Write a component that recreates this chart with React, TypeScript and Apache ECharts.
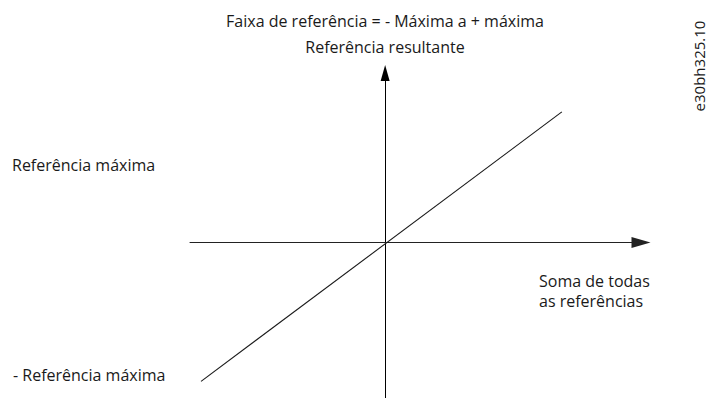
import React, { useEffect, useRef } from "react";
import * as echarts from "echarts";

// Data (units: % of maximum reference)
const lineX: number[] = [-100, 96];
const lineY: number[] = [-100, 94];
const xRange: number[] = [-106, 139];
const yRange: number[] = [-112, 122];

const titleTexts: string[] = ["Faixa de referência = - Máxima a + máxima", "Referência resultante"];
const yLabelTop = "Referência máxima";
const yLabelBottom = "- Referência máxima";
const xLabelLines: string[] = ["Soma de todas", "as referências"];
const docCode = "e30bh325.10";

const FONT = "Open Sans";
const TXT = "#1a1a1a";

export default function App() {
  const ref = useRef<HTMLDivElement>(null);
  useEffect(() => {
    document.body.style.margin = "0";
    if (!ref.current) return;
    const chart = echarts.init(ref.current, null, { renderer: "svg" });
    const textStyle = (extra: any) => ({
      fill: TXT,
      fontFamily: FONT,
      fontSize: 16,
      ...extra,
    });
    chart.setOption({
      animation: false,
      backgroundColor: "#ffffff",
      grid: { left: 190, right: 73, top: 73, bottom: 0, containLabel: false },
      xAxis: {
        type: "value",
        min: xRange[0],
        max: xRange[1],
        axisLine: {
          show: true,
          onZero: true,
          symbol: ["none", "triangle"],
          symbolSize: [11, 19],
          lineStyle: { color: "#222", width: 1 },
        },
        axisTick: { show: false },
        axisLabel: { show: false },
        splitLine: { show: false },
      },
      yAxis: {
        type: "value",
        min: yRange[0],
        max: yRange[1],
        axisLine: {
          show: true,
          onZero: true,
          symbol: ["none", "triangle"],
          symbolSize: [9, 16],
          lineStyle: { color: "#000", width: 1 },
        },
        axisTick: { show: false },
        axisLabel: { show: false },
        splitLine: { show: false },
      },
      series: [
        {
          type: "line",
          data: lineX.map((x, i) => [x, lineY[i]]),
          symbol: "none",
          lineStyle: { color: "#1a1a1a", width: 1.1 },
        },
      ],
      graphic: [
        { type: "text", x: 385, y: 21, style: textStyle({ text: titleTexts[0], textAlign: "center", textVerticalAlign: "middle" }) },
        { type: "text", x: 385, y: 47, style: textStyle({ text: titleTexts[1], textAlign: "center", textVerticalAlign: "middle" }) },
        { type: "text", x: 12, y: 165, style: textStyle({ text: yLabelTop, textAlign: "left", textVerticalAlign: "middle" }) },
        { type: "text", x: 13, y: 375, style: textStyle({ text: yLabelBottom, textAlign: "left", textVerticalAlign: "middle" }) },
        { type: "text", x: 539, y: 281, style: textStyle({ text: xLabelLines[0], textAlign: "left", textVerticalAlign: "middle" }) },
        { type: "text", x: 539, y: 301, style: textStyle({ text: xLabelLines[1], textAlign: "left", textVerticalAlign: "middle" }) },
        {
          type: "text",
          x: 699,
          y: 66,
          rotation: Math.PI / 2,
          style: textStyle({ text: docCode, fontSize: 15, textAlign: "center", textVerticalAlign: "middle" }),
        },
      ],
    });
    return () => chart.dispose();
  }, []);
  return (
    <div
      ref={ref}
      style={{ position: "absolute", left: 0, top: 0, width: 714, height: 398 }}
    />
  );
}
